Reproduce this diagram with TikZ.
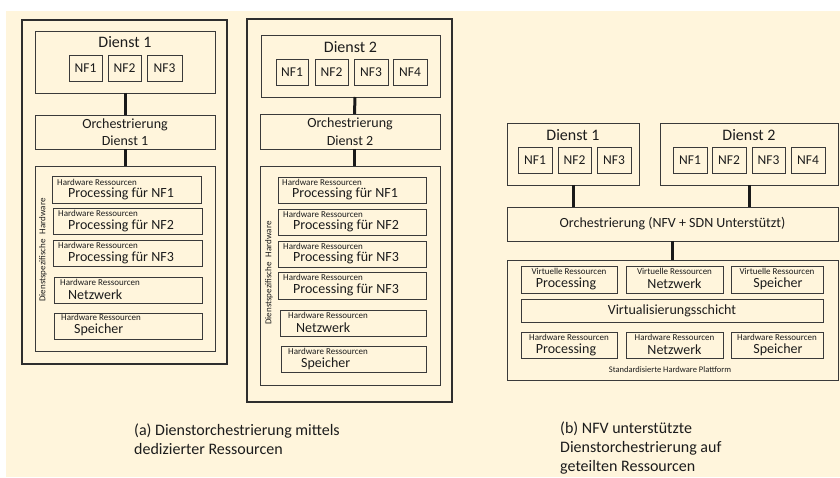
\documentclass[tikz,border=0pt]{standalone}
\usepackage{fontspec}
\setmainfont{Carlito}
\definecolor{paper}{RGB}{255,245,220}
\definecolor{ink}{RGB}{28,28,28}
\definecolor{edge}{RGB}{58,58,58}

\tikzset{
  frame/.style={draw=edge!80!black, line width=2.4pt, inner sep=0pt, outer sep=0pt},
  panel/.style={draw=edge, line width=0.9pt, inner sep=0pt, outer sep=0pt, text=ink},
  link/.style={draw=black!90, line width=3pt},
  ftitle/.style={font=\fontsize{16}{19}\selectfont, text=ink, inner sep=0pt},
  fmain/.style={font=\fontsize{14}{17.5}\selectfont, text=ink, inner sep=0pt},
  fnf/.style={font=\fontsize{13.5}{16}\selectfont},
  fsmall/.style={font=\fontsize{9}{10}\selectfont, text=ink, inner sep=0pt},
  ftiny/.style={font=\fontsize{8.5}{10}\selectfont, text=ink, inner sep=0pt},
  fcap/.style={font=\fontsize{16}{19}\selectfont, text=ink, inner sep=0pt, align=left},
}

% box from its corners: [style] x1 y1 x2 y2 name content
\newcommand\mkbox[7][]{%
  \node[panel,#1,minimum width={#4pt-#2pt},minimum height={#5pt-#3pt}]
    (#6) at ({(#2+#4)/2},{(#3+#5)/2}) {#7};}

\begin{document}
\begin{tikzpicture}[x=1pt,y=-1pt]
\useasboundingbox (0,0) rectangle (840,478);
\fill[white] (0,0) rectangle (840,478);
\fill[paper] (6,11) rectangle (840,477);

% ---------- (a) dedicated resources, service 1 ----------
\mkbox[frame]{22}{20}{227}{364}{outerA}{}
\mkbox{35}{31}{215}{93}{dA}{}
\node[ftitle] (dAt) at (125,42) {Dienst 1};
\mkbox[fnf]{69}{55}{102}{81}{nfAa}{NF1}
\mkbox[fnf]{108}{55}{141}{81}{nfAb}{NF2}
\mkbox[fnf]{147}{55}{182}{81}{nfAc}{NF3}
\mkbox[fmain,align=center]{35}{115}{215}{149}{orA}{Orchestrierung\\Dienst 1}
\mkbox{35}{166}{215}{351}{hwA}{}
\node[fsmall,rotate=90] (hwAt) at (43,250) {Dienstspezifische\hspace{5pt}Hardware};

\mkbox{52}{176}{201}{203}{pAa}{}
\node[fsmall,anchor=west] (pAas) at (57,182.3) {Hardware Ressourcen};
\node[fmain,anchor=west] (pAam) at (68,194.2) {Processing für NF1};
\mkbox{53}{208}{202}{234}{pAb}{}
\node[fsmall,anchor=west] (pAbs) at (58,213.8) {Hardware Ressourcen};
\node[fmain,anchor=west] (pAbm) at (68,226) {Processing für NF2};
\mkbox{53}{240}{202}{266}{pAc}{}
\node[fsmall,anchor=west] (pAcs) at (58,245.8) {Hardware Ressourcen};
\node[fmain,anchor=west] (pAcm) at (68,258) {Processing für NF3};
\mkbox{54}{277}{202}{303}{nwA}{}
\node[fsmall,anchor=west] (nwAs) at (60,282.3) {Hardware Ressourcen};
\node[fmain,anchor=west] (nwAm) at (68,294.5) {Netzwerk};
\mkbox{54}{313}{202}{339}{spA}{}
\node[fsmall,anchor=west] (spAs) at (61,317.5) {Hardware Ressourcen};
\node[fmain,anchor=west] (spAm) at (74,330) {Speicher};

\draw[link] (dA) -- (orA);
\draw[link] (orA) -- (hwA);

% ---------- (a) dedicated resources, service 2 ----------
\mkbox[frame]{247}{19}{452}{402}{outerB}{}
\mkbox{261}{35}{440}{97}{dB}{}
\node[ftitle] (dBt) at (350.5,47) {Dienst 2};
\mkbox[fnf]{276}{59}{308}{85}{nfBa}{NF1}
\mkbox[fnf]{315}{59}{348}{85}{nfBb}{NF2}
\mkbox[fnf]{354}{59}{388}{85}{nfBc}{NF3}
\mkbox[fnf]{393}{59}{427}{85}{nfBd}{NF4}
\mkbox[fmain,align=center]{260}{114}{440}{149}{orB}{Orchestrierung\\Dienst 2}
\mkbox{260}{166}{440}{385}{hwB}{}
\node[fsmall,rotate=90] (hwBt) at (269,273) {Dienstspezifische\hspace{5pt}Hardware};

\mkbox{278}{177}{426}{203}{pBa}{}
\node[fsmall,anchor=west] (pBas) at (282,182.3) {Hardware Ressourcen};
\node[fmain,anchor=west] (pBam) at (292,194.2) {Processing für NF1};
\mkbox{278}{209}{426}{235}{pBb}{}
\node[fsmall,anchor=west] (pBbs) at (283,214.3) {Hardware Ressourcen};
\node[fmain,anchor=west] (pBbm) at (293,226.2) {Processing für NF2};
\mkbox{278}{241}{426}{267}{pBc}{}
\node[fsmall,anchor=west] (pBcs) at (283,246.3) {Hardware Ressourcen};
\node[fmain,anchor=west] (pBcm) at (293,258.2) {Processing für NF3};
\mkbox{278}{272}{426}{299}{pBd}{}
\node[fsmall,anchor=west] (pBds) at (283,277.3) {Hardware Ressourcen};
\node[fmain,anchor=west] (pBdm) at (293,289.5) {Processing für NF3};
\mkbox{280}{310}{426}{336}{nwB}{}
\node[fsmall,anchor=west] (nwBs) at (288,315.3) {Hardware Ressourcen};
\node[fmain,anchor=west] (nwBm) at (296,327.5) {Netzwerk};
\mkbox{281}{346}{426}{372}{spB}{}
\node[fsmall,anchor=west] (spBs) at (288,351.3) {Hardware Ressourcen};
\node[fmain,anchor=west] (spBm) at (301,363.5) {Speicher};

\draw[link] ([xshift=4.5pt]dB.south) -- ([xshift=4.5pt]orB.north);
\draw[link] ([xshift=4.5pt]orB.south) -- ([xshift=4.5pt]hwB.north);

% ---------- (b) shared resources ----------
\mkbox{507}{123}{639}{185}{dC}{}
\node[ftitle] (dCt) at (573,135) {Dienst 1};
\mkbox[fnf]{518}{147}{552}{173}{nfCa}{NF1}
\mkbox[fnf]{558}{147}{591}{173}{nfCb}{NF2}
\mkbox[fnf]{597}{147}{631}{173}{nfCc}{NF3}

\mkbox{660}{123}{838}{185}{dD}{}
\node[ftitle] (dDt) at (749,135) {Dienst 2};
\mkbox[fnf]{673}{147}{707}{173}{nfDa}{NF1}
\mkbox[fnf]{712}{147}{746}{173}{nfDb}{NF2}
\mkbox[fnf]{752}{147}{785}{173}{nfDc}{NF3}
\mkbox[fnf]{791}{147}{825}{173}{nfDd}{NF4}

\mkbox[fmain]{507}{207}{838}{241}{orC}{Orchestrierung (NFV + SDN Unterstützt)}
\mkbox{507}{260}{838}{380}{plC}{}

\mkbox{521}{266}{617}{293}{vP}{}
\node[fsmall] (vPs) at (569,271.3) {Virtuelle Ressourcen};
\node[fmain] (vPm) at (566,284) {Processing};
\mkbox{626}{266}{723}{293}{vN}{}
\node[fsmall] (vNs) at (674.5,271.3) {Virtuelle Ressourcen};
\node[fmain] (vNm) at (674.5,284) {Netzwerk};
\mkbox{731}{266}{823}{293}{vS}{}
\node[fsmall] (vSs) at (777,271.3) {Virtuelle Ressourcen};
\node[fmain] (vSm) at (778,284) {Speicher};

\mkbox[fmain]{521}{299}{823}{322}{virt}{Virtualisierungsschicht}

\mkbox{521}{332}{617}{358}{hP}{}
\node[fsmall] (hPs) at (569,337.3) {Hardware Ressourcen};
\node[fmain] (hPm) at (566,350) {Processing};
\mkbox{626}{332}{723}{358}{hN}{}
\node[fsmall] (hNs) at (674.5,337.3) {Hardware Ressourcen};
\node[fmain] (hNm) at (674.5,350) {Netzwerk};
\mkbox{731}{332}{823}{358}{hS}{}
\node[fsmall] (hSs) at (777,337.3) {Hardware Ressourcen};
\node[fmain] (hSm) at (778,350) {Speicher};

\node[ftiny] (plCt) at (670,369.5) {Standardisierte Hardware Plattform};

\draw[link] (dC.south) -- (dC.south |- orC.north);
\draw[link] (dD.south) -- (dD.south |- orC.north);
\draw[link] (orC) -- (plC);

% ---------- captions ----------
\node[fcap,anchor=west] (capA) at (134,439.5) {(a) Dienstorchestrierung mittels\\dedizierter Ressourcen};
\node[fcap,anchor=west] (capB) at (560,448) {(b) NFV unterstützte\\Dienstorchestrierung auf\\geteilten Ressourcen};
\end{tikzpicture}
\end{document}
